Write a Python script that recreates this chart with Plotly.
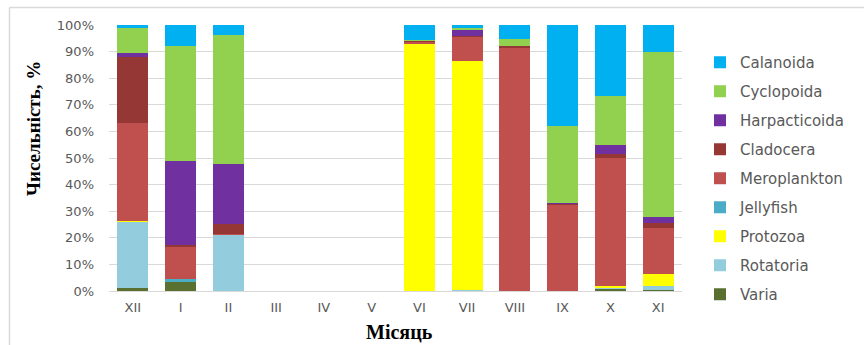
import plotly.graph_objects as go

# Months (Roman numerals), December through November
months = ["XII", "I", "II", "III", "IV", "V", "VI", "VII", "VIII", "IX", "X", "XI"]

# Share of each group in total abundance, %
varia         = [1.3, 3.4, 0.0, 0, 0, 0, 0.0, 0.0, 0.0, 0.0, 1.0, 0.4]
rotatoria     = [24.7, 0.0, 21.2, 0, 0, 0, 0.0, 0.4, 0.0, 0.0, 0.5, 1.5]
protozoa      = [0.5, 0.0, 0.0, 0, 0, 0, 92.9, 86.2, 0.0, 0.0, 0.4, 4.4]
jellyfish     = [0.0, 1.1, 0.0, 0, 0, 0, 0.0, 0.0, 0.0, 0.0, 0.0, 0.0]
meroplankton  = [36.8, 11.9, 0.3, 0, 0, 0, 1.0, 9.0, 91.5, 32.7, 48.0, 17.5]
cladocera     = [24.7, 0.9, 3.8, 0, 0, 0, 0.2, 0.3, 0.5, 0.3, 1.5, 1.9]
harpacticoida = [1.4, 31.7, 22.4, 0, 0, 0, 0.0, 2.4, 0.0, 0.2, 3.5, 2.0]
cyclopoida    = [9.4, 43.2, 48.7, 0, 0, 0, 0.4, 0.5, 2.6, 28.7, 18.4, 62.0]
calanoida     = [1.2, 7.8, 3.6, 0, 0, 0, 5.5, 1.2, 5.4, 38.1, 26.7, 10.3]

# Stacking order, bottom to top
series = [
    ("Varia", varia, "#5A7030"),
    ("Rotatoria", rotatoria, "#93CDDD"),
    ("Protozoa", protozoa, "#FFFF00"),
    ("Jellyfish", jellyfish, "#4BACC6"),
    ("Meroplankton", meroplankton, "#C0504D"),
    ("Cladocera", cladocera, "#953735"),
    ("Harpacticoida", harpacticoida, "#7030A0"),
    ("Cyclopoida", cyclopoida, "#92D050"),
    ("Calanoida", calanoida, "#00B0F0"),
]

fig = go.Figure()
n = len(series)
for i, (name, vals, color) in enumerate(series):
    fig.add_trace(go.Bar(
        x=months, y=vals, name=name, legendgroup=name,
        legendrank=n - i,  # top of the stack listed first
        marker=dict(color=color, line=dict(width=0)),
    ))

W, H = 864, 345
L, R, T, B = 109, 182, 25, 54
pw, ph = W - L - R, H - T - B

def px(x):
    return (x - L) / pw

def py(y):
    return (H - B - y) / ph

tick_font = dict(family="DejaVu Sans", size=13, color="#595959")

fig.update_layout(
    width=W, height=H,
    margin=dict(l=L, r=R, t=T, b=B, pad=0),
    barmode="stack", bargap=0.35,
    plot_bgcolor="white", paper_bgcolor="white",
    showlegend=True,
    legend=dict(
        x=px(700), y=py(46), xanchor="left", yanchor="top",
        traceorder="grouped", tracegroupgap=6.5,
        font=dict(family="DejaVu Sans", size=15, color="#595959"),
        itemwidth=30, bgcolor="rgba(0,0,0,0)",
    ),
    xaxis=dict(
        categoryorder="array", categoryarray=months,
        tickfont=tick_font, showgrid=False, ticks="",
        showline=True, linecolor="#D9D9D9", linewidth=1,
        ticklabelstandoff=4,
    ),
    yaxis=dict(
        range=[0, 100], dtick=10, ticksuffix="%",
        tickfont=tick_font, showgrid=True, gridcolor="#D9D9D9", gridwidth=1,
        zeroline=False, showline=False, ticks="",
        ticklabelstandoff=14,
    ),
    annotations=[
        dict(text="<b>Чисельність, %</b>", textangle=-90,
             x=px(33), y=py(129), xref="paper", yref="paper",
             xanchor="center", yanchor="middle", showarrow=False,
             font=dict(family="Liberation Serif", size=19, color="black")),
        dict(text="<b>Місяць</b>",
             x=px(399), y=py(332), xref="paper", yref="paper",
             xanchor="center", yanchor="middle", showarrow=False,
             font=dict(family="Liberation Serif", size=20, color="black")),
    ],
    shapes=[
        dict(type="line", xref="paper", yref="paper",
             x0=px(9.5), x1=px(W + 5), y0=py(7.5), y1=py(7.5),
             line=dict(color="#D9D9D9", width=1.5)),
        dict(type="line", xref="paper", yref="paper",
             x0=px(9.5), x1=px(9.5), y0=py(7.5), y1=py(H + 5),
             line=dict(color="#D9D9D9", width=1.5)),
    ],
)

fig.write_html("out.html")
